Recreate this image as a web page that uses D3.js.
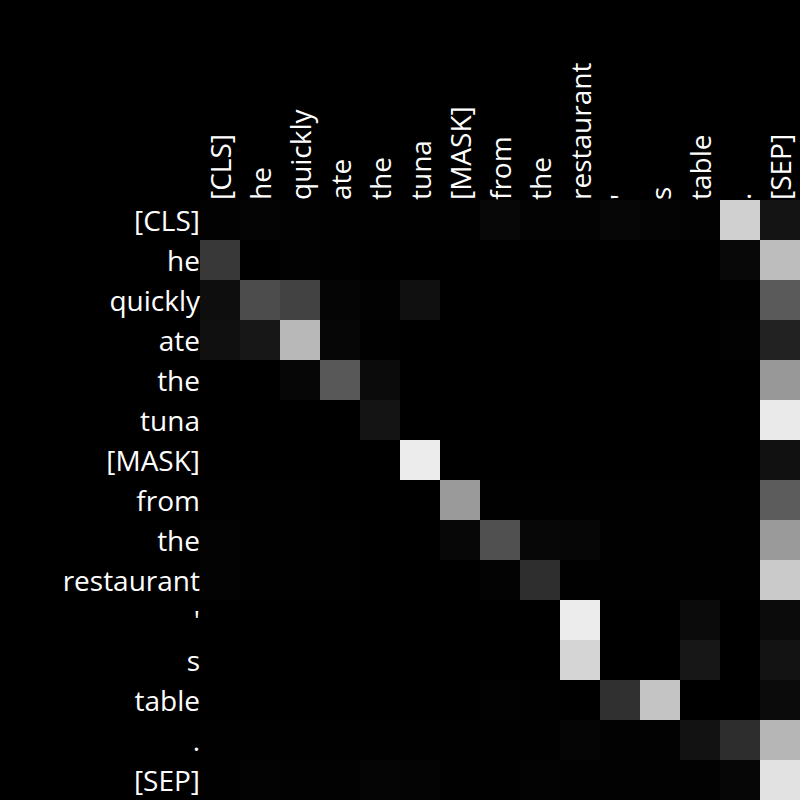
<!DOCTYPE html>
<html><head><meta charset="utf-8">
<script src="https://cdn.jsdelivr.net/npm/d3@7"></script>
<style>html,body{margin:0;padding:0;background:#000;} svg{display:block}</style>
</head><body>
<script>
// Tokens (rows = query tokens, columns = key tokens)
const tokens = ["[CLS]","he","quickly","ate","the","tuna","[MASK]","from","the","restaurant","'","s","table",".","[SEP]"];

// Attention weights (0..1)
const row00 = [0.008,0.016,0.008,0.004,0.004,0.004,0.004,0.027,0.012,0.012,0.024,0.016,0.008,0.816,0.078];
const row01 = [0.220,0.000,0.008,0.004,0.000,0.000,0.000,0.000,0.000,0.000,0.000,0.000,0.000,0.031,0.741];
const row02 = [0.055,0.298,0.259,0.020,0.008,0.063,0.000,0.000,0.000,0.000,0.000,0.000,0.000,0.004,0.353];
const row03 = [0.063,0.090,0.722,0.024,0.004,0.000,0.000,0.000,0.000,0.000,0.000,0.000,0.000,0.008,0.133];
const row04 = [0.000,0.000,0.024,0.345,0.043,0.000,0.000,0.000,0.000,0.000,0.000,0.000,0.000,0.000,0.596];
const row05 = [0.000,0.000,0.000,0.000,0.078,0.000,0.000,0.000,0.000,0.000,0.000,0.000,0.000,0.000,0.918];
const row06 = [0.000,0.000,0.000,0.000,0.000,0.925,0.000,0.000,0.000,0.000,0.000,0.000,0.000,0.000,0.067];
const row07 = [0.004,0.004,0.004,0.000,0.000,0.000,0.604,0.004,0.004,0.004,0.004,0.004,0.004,0.004,0.361];
const row08 = [0.012,0.004,0.004,0.004,0.000,0.000,0.027,0.314,0.027,0.024,0.004,0.004,0.004,0.004,0.604];
const row09 = [0.012,0.004,0.004,0.004,0.000,0.000,0.000,0.012,0.180,0.004,0.004,0.004,0.004,0.004,0.792];
const row10 = [0.000,0.000,0.000,0.000,0.000,0.000,0.000,0.000,0.000,0.925,0.000,0.000,0.043,0.000,0.043];
const row11 = [0.000,0.000,0.000,0.000,0.000,0.000,0.000,0.000,0.000,0.835,0.000,0.000,0.090,0.000,0.075];
const row12 = [0.000,0.000,0.000,0.000,0.000,0.000,0.000,0.008,0.004,0.000,0.188,0.769,0.000,0.000,0.043];
const row13 = [0.004,0.004,0.004,0.004,0.004,0.004,0.004,0.004,0.004,0.020,0.008,0.008,0.071,0.176,0.714];
const row14 = [0.004,0.012,0.008,0.008,0.020,0.016,0.004,0.004,0.012,0.008,0.008,0.008,0.008,0.024,0.886];
const attention = [row00,row01,row02,row03,row04,row05,row06,row07,row08,row09,row10,row11,row12,row13,row14];

const W = 800, H = 800, marginLeft = 200, marginTop = 200;
const svg = d3.select("body").append("svg").attr("width", W).attr("height", H);
svg.append("rect").attr("width", W).attr("height", H).attr("fill", "#000");

const idx = d3.range(tokens.length);
const x = d3.scaleBand().domain(idx).range([marginLeft, W]);
const y = d3.scaleBand().domain(idx).range([marginTop, H]);
const color = d3.scaleLinear().domain([0, 1]).range(["#000000", "#ffffff"]);

const cells = [];
attention.forEach((r, i) => r.forEach((v, j) => cells.push({i, j, v})));
svg.append("g").selectAll("rect").data(cells).join("rect")
  .attr("x", d => x(d.j)).attr("y", d => y(d.i))
  .attr("width", x.bandwidth()).attr("height", y.bandwidth())
  .attr("fill", d => color(d.v)).attr("shape-rendering", "crispEdges");

const font = "'Open Sans', 'Noto Sans', sans-serif";
const fs = "28px";
const gl = svg.append("g").attr("transform", `translate(${marginLeft},0)`)
  .call(d3.axisLeft(y).tickSize(0).tickPadding(0).tickFormat(i => tokens[i]));
gl.select(".domain").remove();
gl.selectAll("text").attr("x", 0).attr("dy", "10.5px").attr("text-anchor", "end")
  .attr("fill", "#fff").style("font-family", font).style("font-size", fs);

const gt = svg.append("g").attr("transform", `translate(0,${marginTop})`)
  .call(d3.axisTop(x).tickSize(0).tickPadding(0).tickFormat(i => tokens[i]));
gt.select(".domain").remove();
gt.selectAll("text").attr("transform", "rotate(-90)").attr("x", 0).attr("y", 0)
  .attr("dy", "10.5px").attr("text-anchor", "start")
  .attr("fill", "#fff").style("font-family", font).style("font-size", fs);
</script>
</body></html>
